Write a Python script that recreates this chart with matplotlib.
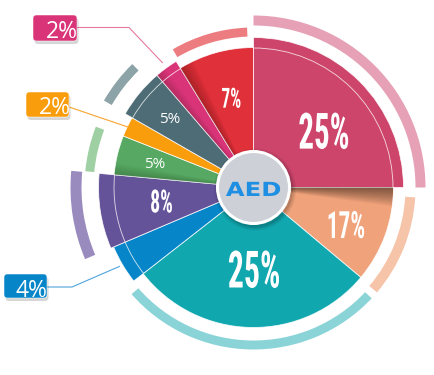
import matplotlib
matplotlib.use('Agg')
import matplotlib.pyplot as plt
import numpy as np
from matplotlib.patches import Wedge, Circle, FancyBboxPatch, Arc
from matplotlib.patheffects import AbstractPathEffect
from matplotlib.transforms import Affine2D
from matplotlib import font_manager as fm

# ---------------- data ----------------
labels = ['25%', '17%', '25%', '4%', '8%', '5%', '2%', '5%', '2%', '7%']
values = [25, 17, 25, 4, 8, 5, 2, 5, 2, 7]
# angular share of each slice as actually drawn in the graphic (percent of circle)
drawn_share = [25.0, 11.1, 28.35, 4.15, 7.85, 4.55, 2.3, 5.4, 2.55, 8.75]

colors = ['#CE456C', '#F0A27A', '#11A7AF', '#0686C9', '#65539A',
          '#56A862', '#FA9D0C', '#4E6C76', '#DA3478', '#E0303A']
ring_colors = ['#E6A1B6', '#F6C4A9', '#8AD4D8', None, '#9A8BBF',
               '#9FD0A3', None, '#8CA3A8', None, '#EC7C80']
label_kind = ['big', 'big', 'big', 'callout', 'big', 'small', 'callout', 'small', 'callout', 'big']

# ---------------- style / layout ----------------
W, H = 435, 375
CX, CY = 253.5, 187.5
slice_r = [150, 140, 140, 152, 155, 140, 140, 148, 148, 140]
ring_r = [(162, 172), (152, 162), (153, 162), None, (172, 183),
          (160, 169), None, (164, 173), None, (151, 160)]
ring_inset = [(0, 0), (3.5, -0.4), (3.2, 3.2), None, (0, 0),
              (0.3, 0.5), None, (0.3, 3.8), None, (1.2, 2.3)]  # (clockwise-start, clockwise-end)
label_r = [91, 99, 80.5, 0, 93, 102, 0, 109, 0, 93]
label_da = [-5.9, -1.3, 1.4, 0, -0.9, -0.8, 0, -0.2, 0, -2.0]
label_size = [36, 27, 37, 0, 23, 11, 0, 11, 0, 20]

def pick(names):
    avail = {f.name for f in fm.fontManager.ttflist}
    for n in names:
        if n in avail:
            return n
    return 'DejaVu Sans'

narrow = pick(['Liberation Sans Narrow', 'Roboto Condensed', 'Liberation Sans'])
squeeze = 0.62 if narrow != 'Liberation Sans' else 0.52
regular = pick(['Open Sans', 'Noto Sans', 'DejaVu Sans'])


class Stretch(AbstractPathEffect):
    """Scale the glyph outlines horizontally about their own centre."""
    def __init__(self, sx):
        super().__init__()
        self.sx = sx

    def draw_path(self, renderer, gc, tpath, affine, rgbFace=None):
        v = tpath.vertices
        if tpath.codes is not None:
            v = v[tpath.codes != 79]
        pts = affine.transform(v)
        cx = 0.5 * (pts[:, 0].min() + pts[:, 0].max())
        a = affine + Affine2D().translate(-cx, 0).scale(self.sx, 1).translate(cx, 0)
        renderer.draw_path(gc, tpath, a, rgbFace)


fig = plt.figure(figsize=(W / 100, H / 100), dpi=100)
ax = fig.add_axes([0, 0, 1, 1])
ax.set_xlim(0, W)
ax.set_ylim(0, H)
ax.axis('off')

spans = np.array(drawn_share) / sum(drawn_share) * 360.0
ends = 90 - np.cumsum(spans)
starts = np.concatenate([[90], ends[:-1]])   # clockwise: slice i from starts[i] down to ends[i]

# outer decorative rings
for i in range(len(values)):
    if ring_colors[i] is None:
        continue
    r0, r1 = ring_r[i]
    a_hi = starts[i] - ring_inset[i][0]
    a_lo = ends[i] + ring_inset[i][1]
    ax.add_patch(Wedge((CX, CY), r1, a_lo, a_hi, width=r1 - r0,
                       facecolor=ring_colors[i], edgecolor='none', zorder=1))

# slices
for i in range(len(values)):
    ax.add_patch(Wedge((CX, CY), slice_r[i], ends[i], starts[i],
                       facecolor=colors[i], edgecolor=(1, 1, 1, 0.85),
                       linewidth=0.6, zorder=2))

# soft shadows cast by raised slices onto lower neighbours
def shadow(r, boundary, direction, n=12, step=0.55, alpha=0.03):
    for k in range(1, n + 1):
        a2 = boundary + direction * k * step
        lo, hi = sorted([boundary, a2])
        ax.add_patch(Wedge((CX, CY), r - 0.5, lo, hi, width=r - 36,
                           facecolor='black', alpha=alpha, edgecolor='none', zorder=2.5))

shadow(slice_r[1], ends[0], -1, n=14, step=0.55, alpha=0.038)  # crimson over salmon
shadow(slice_r[9], ends[8], -1, n=10, step=0.6, alpha=0.025)   # magenta over red
shadow(slice_r[5], starts[5], -1, n=8, step=0.6, alpha=0.025)  # purple over green
shadow(slice_r[8], starts[8], -1, n=8, step=0.5, alpha=0.02)

# thin white arc inside raised slices
for i in range(len(values)):
    if slice_r[i] > 142:
        ax.add_patch(Arc((CX, CY), 2 * 139.5, 2 * 139.5, theta1=ends[i], theta2=starts[i],
                         edgecolor=(1, 1, 1, 0.8), linewidth=0.6, zorder=3))

# slice labels
for i in range(len(values)):
    if label_kind[i] == 'callout':
        continue
    mid = np.deg2rad(0.5 * (starts[i] + ends[i]) + label_da[i])
    x = CX + label_r[i] * np.cos(mid)
    y = CY + label_r[i] * np.sin(mid)
    if label_kind[i] == 'big':
        ax.text(x, y, labels[i], color='white', fontsize=label_size[i], family=narrow,
                fontweight='bold', ha='center', va='center_baseline', zorder=5,
                path_effects=[Stretch(squeeze)])
    else:
        ax.text(x, y, labels[i], color='white', fontsize=label_size[i], family=regular,
                ha='center', va='center_baseline', zorder=5)

# callouts: box (x0, y0, w, h), text centre, leader elbow points, leader end radius
callout_box = {3: (4, 77, 43, 24), 6: (26, 258, 43, 25), 8: (33, 334, 44, 26)}
callout_text = {3: (31, 87), 6: (54.5, 270.5), 8: (61.5, 346)}
callout_path = {3: [(47, 88), (72, 88)], 6: [(69, 268)], 8: [(77, 347.5), (129, 347.5)]}
callout_end_r = {3: 155, 6: 139, 8: 154}
line_colors = {3: '#4FA5DC', 6: '#F9A530', 8: '#E57AA0'}
for i, (x0, y0, w, h) in callout_box.items():
    mid = np.deg2rad(0.5 * (starts[i] + ends[i]))
    ex = CX + callout_end_r[i] * np.cos(mid)
    ey = CY + callout_end_r[i] * np.sin(mid)
    pts = callout_path[i] + [(ex, ey)]
    ax.plot([p[0] for p in pts], [p[1] for p in pts], color=line_colors[i],
            linewidth=0.8, zorder=4, solid_capstyle='butt')
    ax.add_patch(FancyBboxPatch((x0 + 1.5, y0 - 3), w, h,
                                boxstyle='round,pad=0,rounding_size=3.5',
                                facecolor='black', alpha=0.16, edgecolor='none', zorder=5))
    ax.add_patch(FancyBboxPatch((x0, y0), w, h,
                                boxstyle='round,pad=0,rounding_size=3.5',
                                facecolor=colors[i], edgecolor=(1, 1, 1, 0.6),
                                linewidth=0.6, zorder=6))
    tx, ty = callout_text[i]
    ax.text(tx, ty, labels[i], color='white', fontsize=16.5, family=regular,
            ha='center', va='center_baseline', zorder=7)

# centre logo with shadow
for k, (off, a) in enumerate([(5, 0.06), (3.5, 0.08), (2, 0.10)]):
    ax.add_patch(Circle((CX + 1.5, CY - 2), 36 + off, facecolor='black', alpha=a,
                        edgecolor='none', zorder=7))
ax.add_patch(Circle((CX, CY), 36, facecolor='#CDD0D7', edgecolor='white',
                    linewidth=2.2, zorder=8))
ax.text(CX, CY - 1, 'AED', color='#1F8FE3', fontsize=14, family='DejaVu Sans',
        fontweight='bold', ha='center', va='center_baseline', zorder=9,
        path_effects=[Stretch(1.25)])

fig.savefig('out.png', dpi=100)
